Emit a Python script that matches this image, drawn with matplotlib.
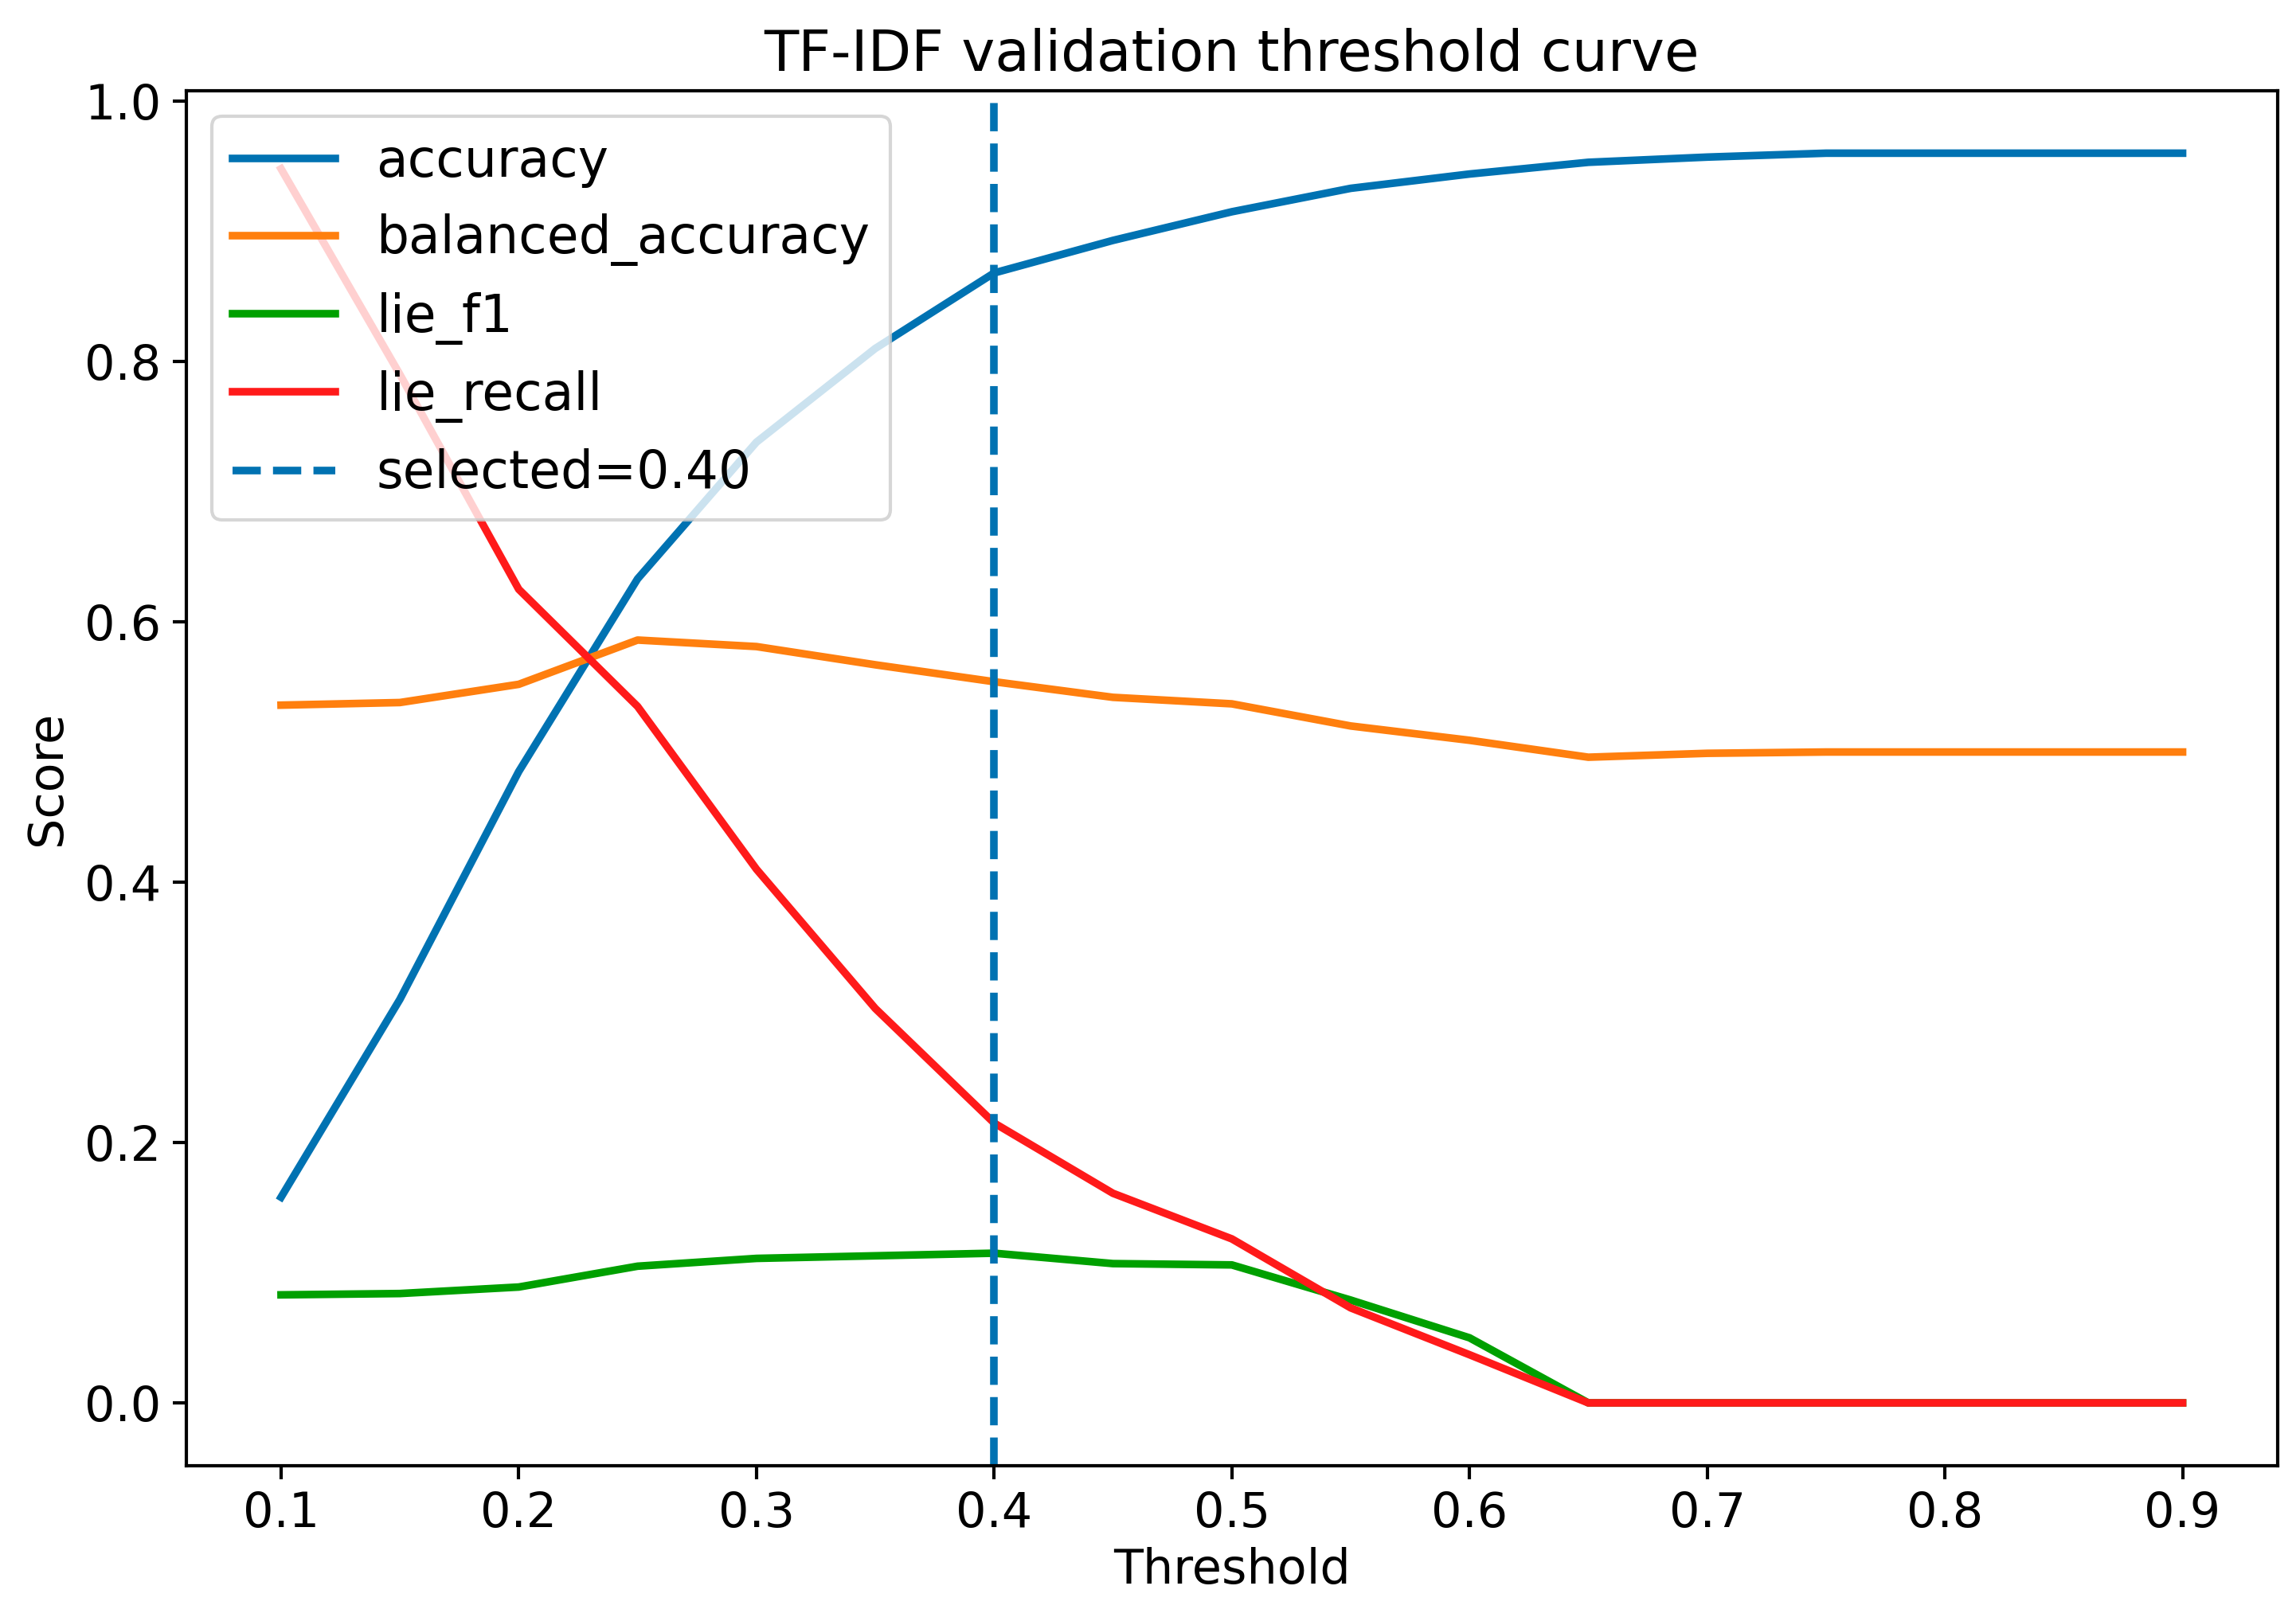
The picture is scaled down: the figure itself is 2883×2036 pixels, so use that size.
import matplotlib
matplotlib.use("Agg")
import matplotlib.pyplot as plt

thresholds = [0.10, 0.15, 0.20, 0.25, 0.30, 0.35, 0.40, 0.45, 0.50, 0.55,
              0.60, 0.65, 0.70, 0.75, 0.80, 0.85, 0.90]
accuracy = [0.158, 0.310, 0.485, 0.633, 0.738, 0.810, 0.868, 0.893, 0.915, 0.933,
            0.944, 0.953, 0.957, 0.960, 0.960, 0.960, 0.960]
balanced_accuracy = [0.536, 0.538, 0.552, 0.586, 0.581, 0.567, 0.554, 0.542, 0.537, 0.520,
                     0.509, 0.496, 0.499, 0.500, 0.500, 0.500, 0.500]
lie_f1 = [0.083, 0.084, 0.089, 0.105, 0.111, 0.113, 0.115, 0.107, 0.106, 0.079,
          0.050, 0.0, 0.0, 0.0, 0.0, 0.0, 0.0]
lie_recall = [0.948, 0.790, 0.625, 0.535, 0.410, 0.303, 0.215, 0.161, 0.126, 0.073,
              0.037, 0.0, 0.0, 0.0, 0.0, 0.0, 0.0]
selected = 0.40

fig, ax = plt.subplots(figsize=(9.61, 6.787), dpi=300)
fig.subplots_adjust(left=0.081, right=0.992, top=0.944, bottom=0.096)

lw = 2.3
ax.plot(thresholds, accuracy, color='#0072b2', linewidth=lw, label='accuracy')
ax.plot(thresholds, balanced_accuracy, color='#ff7f0e', linewidth=lw, label='balanced_accuracy')
ax.plot(thresholds, lie_f1, color='#00a000', linewidth=lw, label='lie_f1')
ax.plot(thresholds, lie_recall, color='#ff1a1a', linewidth=lw, label='lie_recall')
ax.axvline(selected, color='#0072b2', linestyle='--', linewidth=lw, label=f'selected={selected:.2f}')

ax.set_title('TF-IDF validation threshold curve', fontsize=17)
ax.set_xlabel('Threshold', fontsize=14.5, labelpad=3)
ax.set_ylabel('Score', fontsize=14.5, labelpad=4)
ax.set_xticks([0.1, 0.2, 0.3, 0.4, 0.5, 0.6, 0.7, 0.8, 0.9])
ax.tick_params(labelsize=14.5, width=1.0, length=4)
for s in ax.spines.values():
    s.set_linewidth(1.0)
ax.legend(loc='upper left', fontsize=15.5, handlelength=2.0)

plt.savefig('out.png', dpi=300)
